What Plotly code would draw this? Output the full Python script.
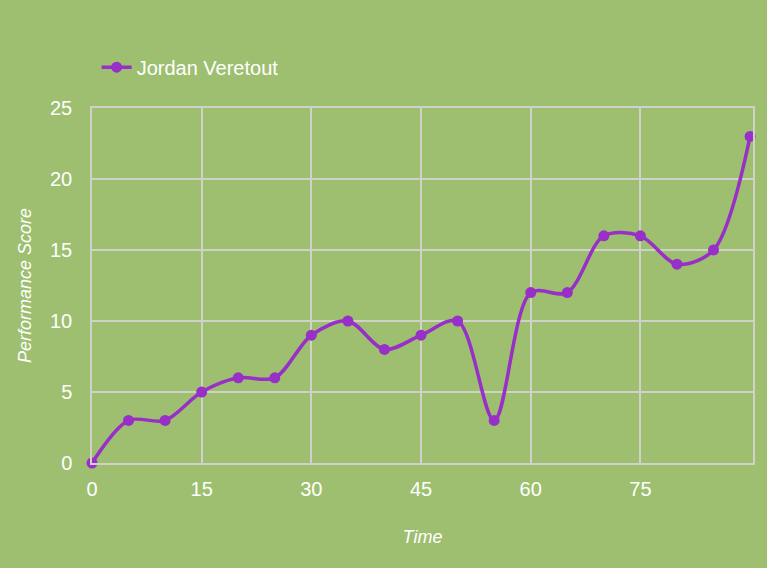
import plotly.graph_objects as go

times = [0, 5, 10, 15, 20, 25, 30, 35, 40, 45, 50, 55, 60, 65, 70, 75, 80, 85, 90]
scores = [0, 3, 3, 5, 6, 6, 9, 10, 8, 9, 10, 3, 12, 12, 16, 16, 14, 15, 23]
series_name = "Jordan Veretout"
x_ticks = [0, 15, 30, 45, 60, 75]
y_ticks = [0, 5, 10, 15, 20, 25]

bg = "#9dbf6f"
grid = "#cfd2c8"
purple = "#982fc8"
font_family = "Liberation Sans, Arial, sans-serif"

fig = go.Figure()
fig.add_trace(go.Scatter(
    x=times, y=scores, name=series_name, mode="lines+markers",
    line=dict(color=purple, width=3.5, shape="spline", smoothing=0.9),
    marker=dict(color=purple, size=11),
    cliponaxis=False,
))

fig.update_layout(
    width=767, height=568,
    paper_bgcolor=bg, plot_bgcolor=bg,
    margin=dict(l=92, r=12, t=108, b=105),
    font=dict(family=font_family, color="white", size=20),
    showlegend=True,
    legend=dict(orientation="h", x=0.007, xanchor="left", y=1.115, yanchor="middle",
                font=dict(size=20, color="white"), bgcolor="rgba(0,0,0,0)"),
    xaxis=dict(
        range=[0, 90.4], tickvals=x_ticks, showgrid=True, gridcolor=grid, gridwidth=1.5,
        zeroline=False, showline=True, linecolor=grid, linewidth=1.5, mirror=True,
        ticks="outside", ticklen=7, tickcolor="rgba(0,0,0,0)",
        tickfont=dict(size=20, color="white"),
        title=dict(text="<i>Time</i>", font=dict(size=18, color="white"), standoff=32),
    ),
    yaxis=dict(
        range=[0, 25], tickvals=y_ticks, showgrid=True, gridcolor=grid, gridwidth=1.5,
        zeroline=False, showline=True, linecolor=grid, linewidth=1.5, mirror=True,
        ticks="outside", ticklen=14, tickcolor="rgba(0,0,0,0)",
        tickfont=dict(size=20, color="white"),
        title=dict(text="<i>Performance Score</i>", font=dict(size=18, color="white"), standoff=14),
    ),
)

fig.write_html("out.html")
